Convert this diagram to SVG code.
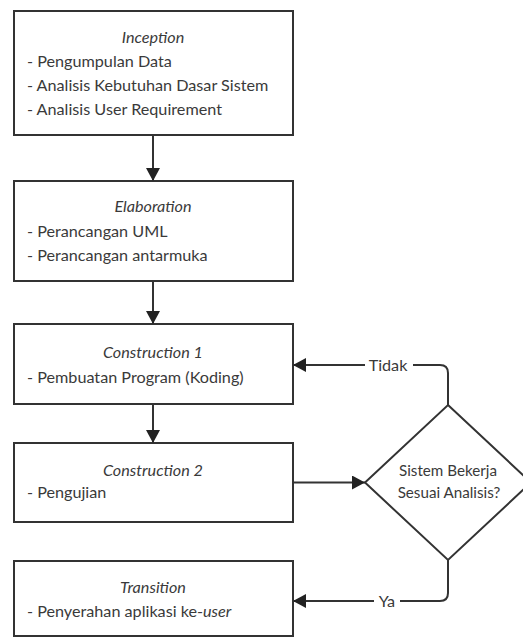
<svg xmlns="http://www.w3.org/2000/svg" width="523" height="638" viewBox="0 0 523 638">
<style>
.box{fill:#fff;stroke:#333;stroke-width:2}
.t{font-family:Lato,"Open Sans","Liberation Sans",sans-serif;font-size:16.2px;fill:#3a3a3a}
.d{font-size:15.2px}
.l{font-size:16.2px}
.title{font-style:italic;text-anchor:middle}
.c{text-anchor:middle}
.line{fill:none;stroke:#333;stroke-width:2}
</style>
<defs>
<marker id="ah" viewBox="0 0 13 14" refX="13" refY="7" markerWidth="13" markerHeight="14" markerUnits="userSpaceOnUse" orient="auto">
<path d="M0,0 L13,7 L0,14 Z" fill="#222"/>
</marker>
</defs>
<rect width="523" height="638" fill="#fff"/>
<g id="inception">
<rect class="box" x="14" y="11" width="279" height="124"/>
<text class="t title" x="153" y="43">Inception</text>
<text class="t" x="27" y="67">- Pengumpulan Data</text>
<text class="t" x="27" y="91">- Analisis Kebutuhan Dasar Sistem</text>
<text class="t" x="27" y="115">- Analisis User Requirement</text>
</g>
<g id="elaboration">
<rect class="box" x="14" y="181" width="279" height="100"/>
<text class="t title" x="153" y="212">Elaboration</text>
<text class="t" x="27" y="237">- Perancangan UML</text>
<text class="t" x="27" y="261">- Perancangan antarmuka</text>
</g>
<g id="construction1">
<rect class="box" x="14" y="324" width="279" height="80"/>
<text class="t title" x="153" y="358">Construction 1</text>
<text class="t" x="27" y="383">- Pembuatan Program (Koding)</text>
</g>
<g id="construction2">
<rect class="box" x="14" y="443" width="279" height="79"/>
<text class="t title" x="153" y="476">Construction 2</text>
<text class="t" x="27" y="498">- Pengujian</text>
</g>
<g id="transition">
<rect class="box" x="14" y="561" width="279" height="75"/>
<text class="t title" x="153" y="593">Transition</text>
<text class="t" x="27" y="617">- Penyerahan aplikasi ke-<tspan font-style="italic">user</tspan></text>
</g>
<g id="decision">
<polygon class="box" points="448,405 531,482.5 448,560 365,482.5"/>
<text class="t d c" x="448" y="476">Sistem Bekerja</text>
<text class="t d c" x="449" y="498">Sesuai Analisis?</text>
</g>
<g id="connectors">
<line class="line" x1="153" y1="135" x2="153" y2="181" marker-end="url(#ah)"/>
<line class="line" x1="153" y1="281" x2="153" y2="324" marker-end="url(#ah)"/>
<line class="line" x1="153" y1="404" x2="153" y2="443" marker-end="url(#ah)"/>
<line class="line" x1="293" y1="482.5" x2="365" y2="482.5" marker-end="url(#ah)"/>
<path class="line" d="M448,405 V373 Q448,365 440,365 H413"/>
<path class="line" d="M365,365 H293" marker-end="url(#ah)"/>
<text class="t l c" x="388" y="371">Tidak</text>
<path class="line" d="M448,560 V593 Q448,601 440,601 H400"/>
<path class="line" d="M374,601 H293" marker-end="url(#ah)"/>
<text class="t l c" x="387" y="607">Ya</text>
</g>
</svg>
